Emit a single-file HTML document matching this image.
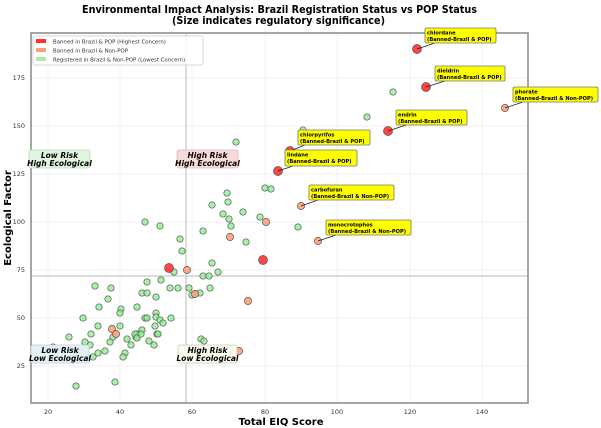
<!DOCTYPE html>
<html><head><meta charset="utf-8"><style>body{margin:0;background:#fff}svg{display:block;font-family:"DejaVu Sans","Liberation Sans",sans-serif}</style></head><body>
<svg width="601" height="428" viewBox="0 0 601 428">
<text x="82" y="13" font-size="11" font-weight="bold" textLength="395" lengthAdjust="spacingAndGlyphs">Environmental Impact Analysis: Brazil Registration Status vs POP Status</text>
<text x="172" y="24" font-size="11" font-weight="bold" textLength="213" lengthAdjust="spacingAndGlyphs">(Size indicates regulatory significance)</text>
<g stroke="#eee" stroke-width="0.8">
<line x1="48" y1="33" x2="48" y2="403"/><line x1="120" y1="33" x2="120" y2="403"/><line x1="192" y1="33" x2="192" y2="403"/><line x1="265" y1="33" x2="265" y2="403"/><line x1="337" y1="33" x2="337" y2="403"/><line x1="410" y1="33" x2="410" y2="403"/><line x1="482" y1="33" x2="482" y2="403"/>
<line x1="31" y1="78" x2="528" y2="78"/><line x1="31" y1="126" x2="528" y2="126"/><line x1="31" y1="174" x2="528" y2="174"/><line x1="31" y1="222" x2="528" y2="222"/><line x1="31" y1="270" x2="528" y2="270"/><line x1="31" y1="318" x2="528" y2="318"/><line x1="31" y1="366" x2="528" y2="366"/>
</g>
<line x1="186" y1="33" x2="186" y2="403" stroke="#bbb" stroke-width="1"/>
<line x1="31" y1="276" x2="528" y2="276" stroke="#bbb" stroke-width="1"/>
<rect x="31" y="33" width="497" height="370" fill="none" stroke="#888" stroke-width="1.5"/>
<g font-size="6.5" fill="#333" text-anchor="middle">
<text x="48" y="414">20</text><text x="120" y="414">40</text><text x="192" y="414">60</text><text x="265" y="414">80</text><text x="337" y="414">100</text><text x="410" y="414">120</text><text x="482" y="414">140</text>
</g>
<g font-size="6.5" fill="#333" text-anchor="end">
<text x="25" y="80">175</text><text x="25" y="128">150</text><text x="25" y="176">125</text><text x="25" y="224">100</text><text x="25" y="272">75</text><text x="25" y="320">50</text><text x="25" y="368">25</text>
</g>
<text x="281" y="425" text-anchor="middle" font-size="10" font-weight="bold">Total EIQ Score</text>
<text transform="translate(11,218) rotate(-90)" text-anchor="middle" font-size="10" font-weight="bold">Ecological Factor</text>
<g fill="#90ee90" fill-opacity="0.8" stroke="#555" stroke-width="0.7">
<circle cx="145" cy="222" r="3.2"/><circle cx="160" cy="226" r="3.2"/><circle cx="180" cy="239" r="3.2"/><circle cx="182" cy="251" r="3.2"/><circle cx="203" cy="231" r="3.2"/><circle cx="212" cy="263" r="3.2"/><circle cx="218" cy="272" r="3.2"/><circle cx="174" cy="272" r="3.2"/><circle cx="95" cy="286" r="3.2"/><circle cx="111" cy="288" r="3.2"/><circle cx="108" cy="299" r="3.2"/><circle cx="99" cy="307" r="3.2"/><circle cx="121" cy="309" r="3.2"/><circle cx="120" cy="313" r="3.2"/><circle cx="137" cy="307" r="3.2"/><circle cx="147" cy="282" r="3.2"/><circle cx="142" cy="293" r="3.2"/><circle cx="147" cy="293" r="3.2"/><circle cx="161" cy="280" r="3.2"/><circle cx="156" cy="297" r="3.2"/><circle cx="170" cy="288" r="3.2"/><circle cx="178" cy="288" r="3.2"/><circle cx="189" cy="288" r="3.2"/><circle cx="192" cy="295" r="3.2"/><circle cx="203" cy="276" r="3.2"/><circle cx="209" cy="276" r="3.2"/><circle cx="200" cy="293" r="3.2"/><circle cx="210" cy="288" r="3.2"/><circle cx="83" cy="318" r="3.2"/><circle cx="98" cy="326" r="3.2"/><circle cx="120" cy="326" r="3.2"/><circle cx="137" cy="334" r="3.2"/><circle cx="136" cy="337" r="3.2"/><circle cx="145" cy="318" r="3.2"/><circle cx="147" cy="318" r="3.2"/><circle cx="156" cy="313" r="3.2"/><circle cx="156" cy="317" r="3.2"/><circle cx="160" cy="320" r="3.2"/><circle cx="163" cy="323" r="3.2"/><circle cx="171" cy="318" r="3.2"/><circle cx="155" cy="326" r="3.2"/><circle cx="157" cy="334" r="3.2"/><circle cx="158" cy="334" r="3.2"/><circle cx="142" cy="330" r="3.2"/><circle cx="141" cy="334" r="3.2"/><circle cx="135" cy="334" r="3.2"/><circle cx="137" cy="338" r="3.2"/><circle cx="127" cy="339" r="3.2"/><circle cx="131" cy="345" r="3.2"/><circle cx="125" cy="353" r="3.2"/><circle cx="123" cy="357" r="3.2"/><circle cx="110" cy="342" r="3.2"/><circle cx="113" cy="337" r="3.2"/><circle cx="105" cy="351" r="3.2"/><circle cx="98" cy="353" r="3.2"/><circle cx="93" cy="357" r="3.2"/><circle cx="90" cy="345" r="3.2"/><circle cx="85" cy="342" r="3.2"/><circle cx="69" cy="337" r="3.2"/><circle cx="91" cy="334" r="3.2"/><circle cx="149" cy="341" r="3.2"/><circle cx="154" cy="345" r="3.2"/><circle cx="81" cy="349" r="3.2"/><circle cx="76" cy="386" r="3.2"/><circle cx="115" cy="382" r="3.2"/><circle cx="201" cy="339" r="3.2"/><circle cx="204" cy="341" r="3.2"/><circle cx="53" cy="347" r="3.2"/>
<circle cx="236" cy="142" r="3.2"/><circle cx="303" cy="130" r="3.2"/><circle cx="265" cy="188" r="3.2"/><circle cx="271" cy="189" r="3.2"/><circle cx="227" cy="193" r="3.2"/><circle cx="228" cy="202" r="3.2"/><circle cx="212" cy="205" r="3.2"/><circle cx="243" cy="212" r="3.2"/><circle cx="223" cy="214" r="3.2"/><circle cx="229" cy="219" r="3.2"/><circle cx="260" cy="217" r="3.2"/><circle cx="231" cy="226" r="3.2"/><circle cx="298" cy="227" r="3.2"/><circle cx="246" cy="242" r="3.2"/><circle cx="393" cy="92" r="3.2"/><circle cx="367" cy="117" r="3.2"/>
</g>
<g fill="#ffa07a" fill-opacity="0.9" stroke="#555" stroke-width="0.7">
<circle cx="112" cy="329" r="3.6"/><circle cx="116" cy="334" r="3.6"/><circle cx="187" cy="270" r="3.6"/><circle cx="195" cy="294" r="3.6"/><circle cx="230" cy="237" r="3.6"/><circle cx="266" cy="222" r="3.6"/><circle cx="248" cy="301" r="3.6"/><circle cx="239" cy="351" r="3.6"/><circle cx="505" cy="108" r="3.6"/><circle cx="301" cy="206" r="3.6"/><circle cx="318" cy="241" r="3.6"/>
</g>
<g fill="#ff3030" fill-opacity="0.9" stroke="#555" stroke-width="0.7">
<circle cx="169" cy="268" r="4.5"/><circle cx="263" cy="260" r="4.5"/><circle cx="417" cy="49" r="4.5"/><circle cx="426" cy="87" r="4.5"/><circle cx="388" cy="131" r="4.5"/><circle cx="278" cy="171" r="4.5"/><circle cx="290" cy="151" r="4.5"/>
</g>
<g stroke="#222" stroke-width="0.8">
<line x1="417" y1="49" x2="435" y2="43"/><line x1="426" y1="87" x2="445" y2="81"/><line x1="505" y1="108" x2="523" y2="102"/><line x1="388" y1="131" x2="406" y2="125"/><line x1="290" y1="151" x2="305" y2="145"/><line x1="278" y1="171" x2="293" y2="166"/><line x1="301" y1="206" x2="318" y2="200"/><line x1="318" y1="241" x2="336" y2="235"/>
</g>
<g fill="#ffff00" stroke="#777" stroke-width="0.8">
<rect x="425" y="28" width="71" height="15" rx="1.5"/><rect x="435" y="66" width="70" height="15" rx="1.5"/><rect x="513" y="87" width="85" height="15" rx="1.5"/><rect x="396" y="110" width="71" height="15" rx="1.5"/><rect x="298" y="130" width="72" height="15" rx="1.5"/><rect x="285" y="150" width="72" height="16" rx="1.5"/><rect x="309" y="185" width="85" height="15" rx="1.5"/><rect x="326" y="220" width="85" height="15" rx="1.5"/>
</g>
<g font-size="5.1" font-weight="bold" fill="#000">
<text x="427" y="34.5">chlordane</text><text x="427" y="41">(Banned-Brazil &amp; POP)</text>
<text x="437" y="72.5">dieldrin</text><text x="437" y="79">(Banned-Brazil &amp; POP)</text>
<text x="515" y="93.5">phorate</text><text x="515" y="100">(Banned-Brazil &amp; Non-POP)</text>
<text x="398" y="116.5">endrin</text><text x="398" y="123">(Banned-Brazil &amp; POP)</text>
<text x="300" y="136.5">chlorpyrifos</text><text x="300" y="143">(Banned-Brazil &amp; POP)</text>
<text x="287" y="156.5">lindane</text><text x="287" y="163">(Banned-Brazil &amp; POP)</text>
<text x="311" y="191.5">carbofuran</text><text x="311" y="198">(Banned-Brazil &amp; Non-POP)</text>
<text x="328" y="226.5">monocrotophos</text><text x="328" y="233">(Banned-Brazil &amp; Non-POP)</text>
</g>
<g stroke-width="0.8">
<rect x="29" y="150" width="61" height="18" rx="2" fill="#dff5df" stroke="#b8dcb8"/>
<rect x="177" y="150" width="61" height="18" rx="2" fill="#f8dada" stroke="#dbb"/>
<rect x="31" y="345" width="58" height="18" rx="2" fill="#e3f1f5" stroke="#bcd"/>
<rect x="178" y="345" width="59" height="18" rx="2" fill="#fbfbef" stroke="#ccb"/>
</g>
<g font-size="7.5" font-weight="bold" font-style="italic" text-anchor="middle">
<text x="59.5" y="158">Low Risk</text><text x="59.5" y="166">High Ecological</text>
<text x="207.5" y="158">High Risk</text><text x="207.5" y="166">High Ecological</text>
<text x="60" y="353">Low Risk</text><text x="60" y="361">Low Ecological</text>
<text x="207.5" y="353">High Risk</text><text x="207.5" y="361">Low Ecological</text>
</g>
<rect x="33" y="36" width="170" height="29" rx="2" fill="#fff" fill-opacity="0.85" stroke="#ccc" stroke-width="0.8"/>
<rect x="36" y="39" width="10" height="4" fill="#ff3030"/>
<rect x="36" y="48" width="10" height="4" fill="#ffa07a"/>
<rect x="36" y="57" width="10" height="4" fill="#a8eea8"/>
<g font-size="5.4" fill="#333">
<text x="53" y="43.5">Banned in Brazil &amp; POP (Highest Concern)</text>
<text x="53" y="52.5">Banned in Brazil &amp; Non-POP</text>
<text x="53" y="61.5">Registered in Brazil &amp; Non-POP (Lowest Concern)</text>
</g>
</svg>
</body></html>
